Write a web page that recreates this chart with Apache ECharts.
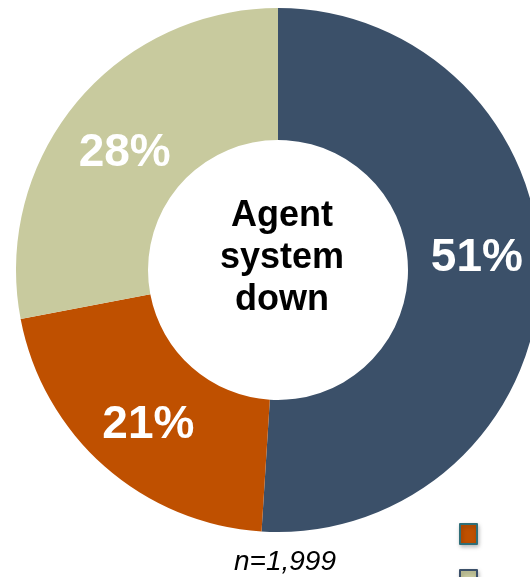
<!DOCTYPE html>
<html>
<head>
<meta charset="utf-8">
<script src="https://cdn.jsdelivr.net/npm/echarts@6/dist/echarts.min.js"></script>
<style>
html,body{margin:0;padding:0;background:#fff;}
#chart{width:530px;height:577px;}
</style>
</head>
<body>
<div id="chart"></div>
<script>
const categories = ['Segment A', 'Segment B', 'Segment C'];
const values = [51, 21, 28];
const colors = ['#3B5069', '#BF5000', '#C8CA9E'];
const legendBorders = ['#3B5069', '#2F6E78', '#3B5069'];
const labelOffsets = [[0, -18], [2, 6], [0, 10]];
const centerTitle = 'Agent\nsystem\ndown';
const footnote = 'n=1,999';

const chart = echarts.init(document.getElementById('chart'));
const data = categories.map((name, i) => ({
  name: name,
  value: values[i],
  itemStyle: { color: colors[i], borderColor: legendBorders[i], borderWidth: 0 },
  label: { offset: labelOffsets[i] }
}));

chart.setOption({
  animation: false,
  legend: {
    orient: 'vertical',
    left: 454,
    top: 518,
    height: 150,
    itemWidth: 17,
    itemHeight: 20,
    itemGap: 24,
    icon: 'rect',
    data: [categories[1], categories[2], categories[0]],
    formatter: () => '',
    itemStyle: { borderWidth: 2, shadowBlur: 4, shadowColor: 'rgba(0,0,0,0.25)', shadowOffsetX: 1, shadowOffsetY: 2 },
    selectedMode: false
  },
  graphic: [
    {
      type: 'text',
      x: 282,
      y: 258,
      style: {
        text: centerTitle,
        font: 'bold 36px "Liberation Sans", Arial, sans-serif',
        fill: '#000',
        align: 'center',
        verticalAlign: 'middle',
        lineHeight: 42
      }
    },
    {
      type: 'text',
      x: 285,
      y: 562,
      style: {
        text: footnote,
        font: 'italic 28px "Liberation Sans", Arial, sans-serif',
        fill: '#000',
        align: 'center',
        verticalAlign: 'middle'
      }
    }
  ],
  series: [{
    type: 'pie',
    center: [278, 270],
    radius: [130, 262],
    startAngle: 90,
    clockwise: true,
    avoidLabelOverlap: false,
    label: {
      show: true,
      position: 'inside',
      formatter: '{c}%',
      color: '#fff',
      fontSize: 46,
      fontWeight: 'bold',
      fontFamily: '"Liberation Sans", Arial, sans-serif'
    },
    labelLine: { show: false },
    emphasis: { disabled: true },
    data: data
  }]
});
</script>
</body>
</html>
